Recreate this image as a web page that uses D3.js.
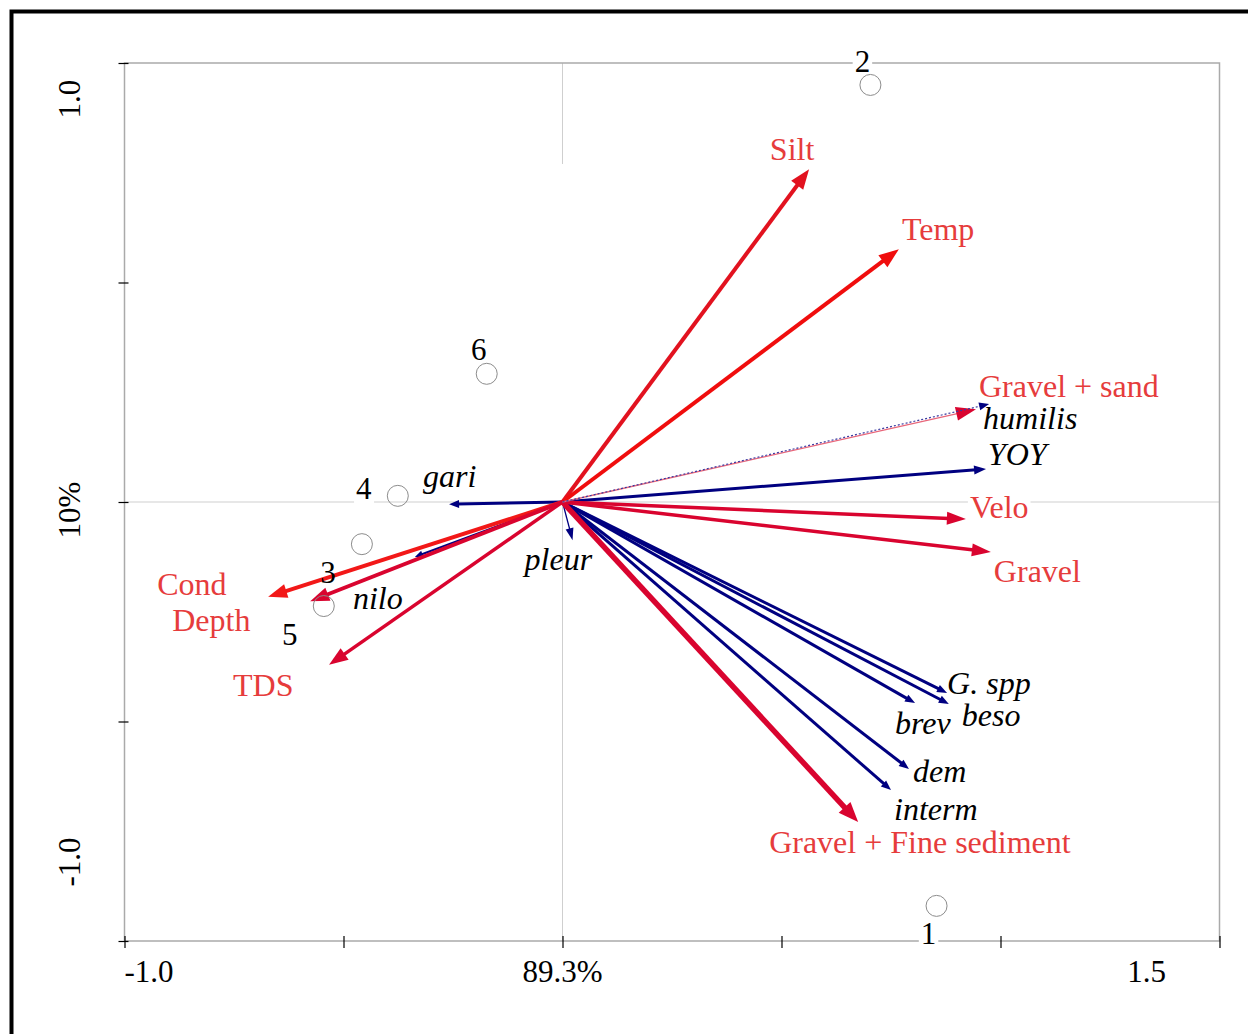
<!DOCTYPE html>
<html>
<head>
<meta charset="utf-8">
<script src="https://cdn.jsdelivr.net/npm/d3@7"></script>
<style>
  html, body { margin: 0; padding: 0; background: #fff; }
  svg { display: block; }
  text { font-family: "Liberation Serif", "Times New Roman", serif; }
</style>
</head>
<body>
<svg id="chart" width="1248" height="1034"></svg>
<script>
// Environmental variables (biplot scores)
const envNames = ["Silt", "Temp", "Gravel + sand", "Velo", "Gravel", "Gravel + Fine sediment", "Cond", "Depth", "TDS"];
const envX = [0.563, 0.768, 0.944, 0.921, 0.978, 0.675, -0.672, -0.576, -0.533];
const envY = [0.758, 0.576, 0.211, -0.039, -0.114, -0.729, -0.216, -0.226, -0.371];

// Species scores
const spNames = ["humilis", "YOY", "G. spp", "beso", "brev", "dem", "interm", "pleur", "gari", "nilo"];
const spX = [0.974, 0.967, 0.878, 0.882, 0.805, 0.791, 0.750, 0.023, -0.259, -0.337];
const spY = [0.223, 0.075, -0.435, -0.460, -0.458, -0.608, -0.656, -0.087, -0.005, -0.125];

// Site scores
const siteNames = ["1", "2", "3", "4", "5", "6"];
const siteX = [0.854, 0.703, -0.458, -0.376, -0.545, -0.173];
const siteY = [-0.920, 0.950, -0.096, 0.014, -0.237, 0.292];

// Axis ticks and labels
const xTicks = [-1, -0.5, 0, 0.5, 1, 1.5];
const yTicks = [-1, -0.5, 0, 0.5, 1];
const xLabelValues = [-1, 0, 1.5];
const xLabelTexts = ["-1.0", "89.3%", "1.5"];
const yLabelValues = [1, 0, -1];
const yLabelTexts = ["1.0", "10%", "-1.0"];

// ---- layout / styling ----
const svg = d3.select("#chart");
const x = d3.scaleLinear().domain([-1, 1.5]).range([124.5, 1219.5]);
const y = d3.scaleLinear().domain([-1, 1]).range([941, 63]);

const RED_TXT = "#e63c3c";
const CRIMSON = "#d9042f";
const NAVY = "#000080";
const LABEL_SIZE = 32;

const envStyle = {
  "Silt": {c: "#e2121f", w: 4, L: 20, W: 7.5, lx: -17, ly: -9, a: "middle"},
  "Temp": {c: "#f00d0d", w: 4, L: 20, W: 7.5, lx: 3, ly: -9, a: "start"},
  "Gravel + sand": {c: "#e8667a", w: 1.3, L: 20, W: 7, hc: CRIMSON, lx: 3, ly: -12, a: "start"},
  "Velo": {c: CRIMSON, w: 3.5, L: 19, W: 6.5, lx: 4, ly: -1, a: "start", bg: true},
  "Gravel": {c: CRIMSON, w: 3.5, L: 19, W: 6.5, lx: 3, ly: 30, a: "start"},
  "Gravel + Fine sediment": {c: CRIMSON, w: 5.5, L: 20, W: 8, lx: -89, ly: 31, a: "start"},
  "Cond": {c: "#f21818", w: 4, L: 19, W: 7, lx: -111, ly: -2, a: "start"},
  "Depth": {c: CRIMSON, w: 4, L: 19, W: 7, lx: -138, ly: 30, a: "start"},
  "TDS": {c: CRIMSON, w: 3.5, L: 19, W: 7, lx: -96, ly: 31, a: "start"}
};
const spStyle = {
  "humilis": {w: 1.5, dash: "2,2", L: 10, W: 4, lx: -6, ly: 25},
  "YOY": {w: 3, L: 12, W: 4.5, lx: 2, ly: -4},
  "G. spp": {w: 3, L: 10, W: 4, lx: 0, ly: 1},
  "beso": {w: 3, L: 10, W: 4, lx: 13, ly: 22},
  "brev": {w: 3, L: 10, W: 4, lx: -20, ly: 31},
  "dem": {w: 3, L: 10, W: 4, lx: 4, ly: 13},
  "interm": {w: 3, L: 10, W: 4, lx: 3, ly: 30},
  "pleur": {w: 1.3, L: 12, W: 4, lx: -48, ly: 30},
  "gari": {w: 3, L: 10, W: 4, lx: -26, ly: -17},
  "nilo": {w: 2, L: 8, W: 3.5, lx: -62, ly: 52}
};
const siteLabelOffset = {
  "1": [-8, 38], "2": [-8, -13], "3": [-34, 39], "4": [-34, 3], "5": [-34, 39], "6": [-8, -14]
};

const env = envNames.map((n, i) => ({name: n, vx: envX[i], vy: envY[i], s: envStyle[n]}));
const spp = spNames.map((n, i) => ({name: n, vx: spX[i], vy: spY[i], s: spStyle[n]}));
const sites = siteNames.map((n, i) => ({name: n, vx: siteX[i], vy: siteY[i]}));

// outer frame (top and left)
svg.append("path")
  .attr("d", "M11.5,1034 V11.5 H1248")
  .attr("fill", "none").attr("stroke", "#000").attr("stroke-width", 4);

// zero lines
const grid = svg.append("g").attr("stroke", "#cfcfcf").attr("stroke-width", 1);
grid.append("line").attr("x1", x(-1)).attr("x2", x(1.5)).attr("y1", y(0)).attr("y2", y(0));
grid.append("line").attr("x1", x(0)).attr("x2", x(0)).attr("y1", y(1)).attr("y2", y(0.77));
grid.append("line").attr("x1", x(0)).attr("x2", x(0)).attr("y1", y(0)).attr("y2", y(-1));

// plot border
svg.append("rect")
  .attr("x", x(-1)).attr("y", y(1))
  .attr("width", x(1.5) - x(-1)).attr("height", y(-1) - y(1))
  .attr("fill", "none").attr("stroke", "#aaaaaa").attr("stroke-width", 1.5);

// tick marks
const yAxis = d3.axisLeft(y).tickValues(yTicks).tickSize(10).tickFormat("");
svg.append("g").attr("transform", "translate(128.5,0)").call(yAxis)
  .call(g => g.select(".domain").remove())
  .selectAll("line").attr("stroke", "#000").attr("stroke-width", 1.2);
const xAxis = d3.axisBottom(x).tickValues(xTicks).tickSize(12).tickFormat("");
svg.append("g").attr("transform", "translate(0,936)").call(xAxis)
  .call(g => g.select(".domain").remove())
  .selectAll("line").attr("stroke", "#000").attr("stroke-width", 1.2);

// tick labels
const xLabelDx = [0, 0, -73];
const xLabelAnchor = ["start", "middle", "middle"];
svg.append("g").selectAll("text").data(xLabelValues).join("text")
  .attr("x", (d, i) => x(d) + xLabelDx[i]).attr("y", 982)
  .attr("text-anchor", (d, i) => xLabelAnchor[i])
  .attr("font-size", 31).attr("fill", "#000")
  .text((d, i) => xLabelTexts[i]);
const yLabelDy = [36, 8, -79];
svg.append("g").selectAll("text").data(yLabelValues).join("text")
  .attr("transform", (d, i) => `translate(80,${y(d) + yLabelDy[i]}) rotate(-90)`)
  .attr("text-anchor", "middle")
  .attr("font-size", 31).attr("fill", "#000")
  .text((d, i) => yLabelTexts[i]);

// layers
const bgLayer = svg.append("g");
const arrowLayer = svg.append("g");
const siteLayer = svg.append("g");
const labelLayer = svg.append("g");

const ox = x(0), oy = y(0);

function drawArrow(g, d, color, headColor, w, L, W, dash) {
  const tx = x(d.vx), ty = y(d.vy);
  const dx = tx - ox, dy = ty - oy;
  const len = Math.hypot(dx, dy);
  const ux = dx / len, uy = dy / len;
  const bx = tx - ux * L, by = ty - uy * L;
  g.append("line")
    .attr("x1", ox).attr("y1", oy).attr("x2", bx + ux * 2).attr("y2", by + uy * 2)
    .attr("stroke", color).attr("stroke-width", w)
    .attr("stroke-dasharray", dash || null);
  g.append("path")
    .attr("d", `M${tx},${ty} L${bx - uy * W},${by + ux * W} L${bx + uy * W},${by - ux * W} Z`)
    .attr("fill", headColor);
}

// species arrows (underneath)
spp.forEach(d => {
  if (d.name === "humilis") return;
  drawArrow(arrowLayer, d, NAVY, NAVY, d.s.w, d.s.L, d.s.W, d.s.dash);
});
// environmental arrows
env.forEach(d => {
  if (d.name === "Gravel + sand") return;
  drawArrow(arrowLayer, d, d.s.c, d.s.c, d.s.w, d.s.L, d.s.W);
});
// thin gravel + sand vector with dotted humilis over it
{
  const d = env.find(e => e.name === "Gravel + sand");
  drawArrow(arrowLayer, d, d.s.c, d.s.hc, d.s.w, d.s.L, d.s.W);
  const h = spp.find(e => e.name === "humilis");
  drawArrow(arrowLayer, h, "#3a3aa0", NAVY, 1.2, h.s.L, h.s.W, h.s.dash);
}

// sites
siteLayer.selectAll("circle").data(sites).join("circle")
  .attr("cx", d => x(d.vx)).attr("cy", d => y(d.vy)).attr("r", 10.5)
  .attr("fill", "none").attr("stroke", "#8c8c8c").attr("stroke-width", 1);

function addBg(textSel) {
  textSel.each(function () {
    const b = this.getBBox();
    bgLayer.append("rect")
      .attr("x", b.x - 2).attr("y", b.y + 4).attr("width", b.width + 4).attr("height", b.height - 6)
      .attr("fill", "#fff");
  });
}

// site labels
const siteText = labelLayer.append("g").selectAll("text").data(sites).join("text")
  .attr("x", d => x(d.vx) + siteLabelOffset[d.name][0])
  .attr("y", d => y(d.vy) + siteLabelOffset[d.name][1])
  .attr("text-anchor", "middle").attr("font-size", 31).attr("fill", "#000")
  .text(d => d.name);
addBg(siteText);

// environmental labels
const envText = labelLayer.append("g").selectAll("text").data(env).join("text")
  .attr("x", d => x(d.vx) + d.s.lx).attr("y", d => y(d.vy) + d.s.ly)
  .attr("text-anchor", d => d.s.a).attr("font-size", LABEL_SIZE).attr("fill", RED_TXT)
  .text(d => d.name);
addBg(envText.filter(d => d.s.bg));

// species labels
labelLayer.append("g").selectAll("text").data(spp).join("text")
  .attr("x", d => x(d.vx) + d.s.lx).attr("y", d => y(d.vy) + d.s.ly)
  .attr("font-size", LABEL_SIZE).attr("font-style", "italic").attr("fill", "#000")
  .text(d => d.name);
</script>
</body>
</html>
